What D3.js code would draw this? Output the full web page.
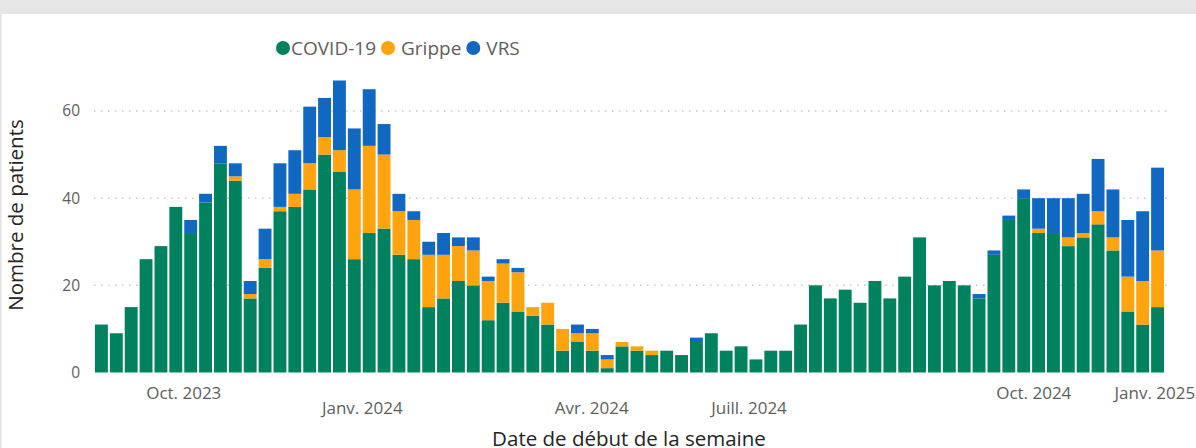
<!DOCTYPE html>
<html>
<head>
<meta charset="utf-8">
<script src="https://cdn.jsdelivr.net/npm/d3@7"></script>
<style>
  body { margin: 0; background: #fff; }
  svg { display: block; font-family: "Segoe UI", "Open Sans", sans-serif; }
</style>
</head>
<body>
<svg width="1196" height="448"></svg>
<script>
// weekly patient counts by pathogen, Aug 2023 - Dec 2024
var firstWeek = "2023-08-21", lastWeek = "2024-12-30";
var seriesNames = ["COVID-19", "Grippe", "VRS"];
var seriesColors = ["#00825f", "#ffa30f", "#1068c1"];

var covid = [11, 9, 15, 26, 29, 38, 32, 39, 48, 44, 17, 24, 37, 38, 42, 50, 46, 26, 32, 33,
  27, 26, 15, 17, 21, 20, 12, 16, 14, 13, 11, 5, 7, 5, 1, 6, 5, 4, 5, 4,
  7, 9, 5, 6, 3, 5, 5, 11, 20, 17, 19, 16, 21, 17, 22, 31, 20, 21, 20, 17,
  27, 35, 40, 32, 32, 29, 31, 34, 28, 14, 11, 15];
var grippe = [0, 0, 0, 0, 0, 0, 0, 0, 0, 1, 1, 2, 1, 3, 6, 4, 5, 16, 20, 17,
  10, 9, 12, 10, 8, 8, 9, 9, 9, 2, 5, 5, 2, 4, 2, 1, 1, 1, 0, 0,
  0, 0, 0, 0, 0, 0, 0, 0, 0, 0, 0, 0, 0, 0, 0, 0, 0, 0, 0, 0,
  0, 0, 0, 1, 0, 2, 1, 3, 3, 8, 10, 13];
var vrs = [0, 0, 0, 0, 0, 0, 3, 2, 4, 3, 3, 7, 10, 10, 13, 9, 16, 14, 13, 7,
  4, 2, 3, 5, 2, 3, 1, 1, 1, 0, 0, 0, 2, 1, 1, 0, 0, 0, 0, 0,
  1, 0, 0, 0, 0, 0, 0, 0, 0, 0, 0, 0, 0, 0, 0, 0, 0, 0, 0, 1,
  1, 1, 2, 7, 8, 9, 9, 12, 11, 13, 16, 19];

var yTicks = [0, 20, 40, 60];
var tickLabels = ["Oct. 2023", "Janv. 2024", "Avr. 2024", "Juill. 2024", "Oct. 2024", "Janv. 2025"];
var tickDates = ["2023-10-02", "2023-12-25", "2024-04-11", "2024-06-24", "2024-11-05", "2025-01-01"];

var parse = d3.utcParse("%Y-%m-%d");
var weeks = d3.utcMonday.range(parse(firstWeek), d3.utcDay.offset(parse(lastWeek), 1));
var rows = weeks.map(function(w, i) {
  return { week: w, "COVID-19": covid[i], "Grippe": grippe[i], "VRS": vrs[i] };
});

var svg = d3.select("svg");
var plotLeft = 94, plotRight = 1165, plotBase = 372.5, plotTop = 111;

// page frame
svg.append("rect").attr("width", 1196).attr("height", 14).attr("fill", "#e6e6e6");
svg.append("rect").attr("y", 14).attr("width", 1.5).attr("height", 434).attr("fill", "#e1e1e1");

var x = d3.scaleUtc()
  .domain([weeks[0], d3.utcDay.offset(weeks[weeks.length - 1], 7)])
  .range([plotLeft, plotRight]);
var y = d3.scaleLinear().domain([0, 60]).range([plotBase, plotTop]);
var color = d3.scaleOrdinal().domain(seriesNames).range(seriesColors);

// dotted gridlines
svg.append("g")
  .selectAll("line")
  .data(yTicks.filter(function(d) { return d > 0; }))
  .enter().append("line")
    .attr("x1", plotLeft).attr("x2", plotRight + 4)
    .attr("y1", function(d) { return y(d); })
    .attr("y2", function(d) { return y(d); })
    .attr("stroke", "#c8c6c4")
    .attr("stroke-width", 1.5)
    .attr("stroke-dasharray", "1.5,5.5");

var stacked = d3.stack().keys(seriesNames)(rows);

svg.append("g")
  .selectAll("g")
  .data(stacked)
  .enter().append("g")
    .attr("fill", function(d) { return color(d.key); })
  .selectAll("rect")
  .data(function(d) { return d.filter(function(p) { return p[1] > p[0]; }); })
  .enter().append("rect")
    .attr("x", function(d) { return x(d.data.week) + 1; })
    .attr("width", function(d) { return x(d3.utcDay.offset(d.data.week, 7)) - x(d.data.week) - 2; })
    .attr("y", function(d) { return y(d[1]); })
    .attr("height", function(d) { return y(d[0]) - y(d[1]); });

// y axis
var yAxis = svg.append("g")
  .attr("transform", "translate(" + plotLeft + ",0)")
  .call(d3.axisLeft(y).tickValues(yTicks).tickSize(0).tickPadding(14))
  .attr("font-family", null)
  .attr("font-size", 15.5);
yAxis.select(".domain").remove();
yAxis.selectAll("text").attr("fill", "#605e5c");

// x axis, labels on two staggered rows
var tickRow = [0, 1, 1, 1, 0, 0];
var xAxis = svg.append("g")
  .attr("transform", "translate(0," + plotBase + ")")
  .call(d3.axisBottom(x)
    .tickValues(tickDates.map(parse))
    .tickFormat(function(d, i) { return tickLabels[i]; })
    .tickSize(0))
  .attr("font-family", null)
  .attr("font-size", 17);
xAxis.select(".domain").remove();
xAxis.selectAll("text")
  .attr("fill", "#605e5c")
  .attr("dy", 0)
  .attr("y", function(d, i) { return tickRow[i] ? 41.5 : 26.5; });

// axis titles
svg.append("text")
  .attr("x", 629).attr("y", 446)
  .attr("text-anchor", "middle")
  .attr("font-size", 20.5)
  .attr("fill", "#252423")
  .text("Date de début de la semaine");

svg.append("text")
  .attr("transform", "translate(23,215) rotate(-90)")
  .attr("text-anchor", "middle")
  .attr("font-size", 20.5)
  .attr("fill", "#252423")
  .text("Nombre de patients");

// legend
var textGap = [1, 6, 6];
var cursor = 276;
var legend = svg.append("g");
seriesNames.forEach(function(name, i) {
  legend.append("circle")
    .attr("cx", cursor + 7).attr("cy", 48).attr("r", 7)
    .attr("fill", color(name));
  var t = legend.append("text")
    .attr("x", cursor + 14 + textGap[i]).attr("y", 48).attr("dy", "0.35em")
    .attr("font-size", 19)
    .attr("fill", "#605e5c")
    .text(name);
  cursor = cursor + 14 + textGap[i] + t.node().getComputedTextLength() + 5;
});
</script>
</body>
</html>
